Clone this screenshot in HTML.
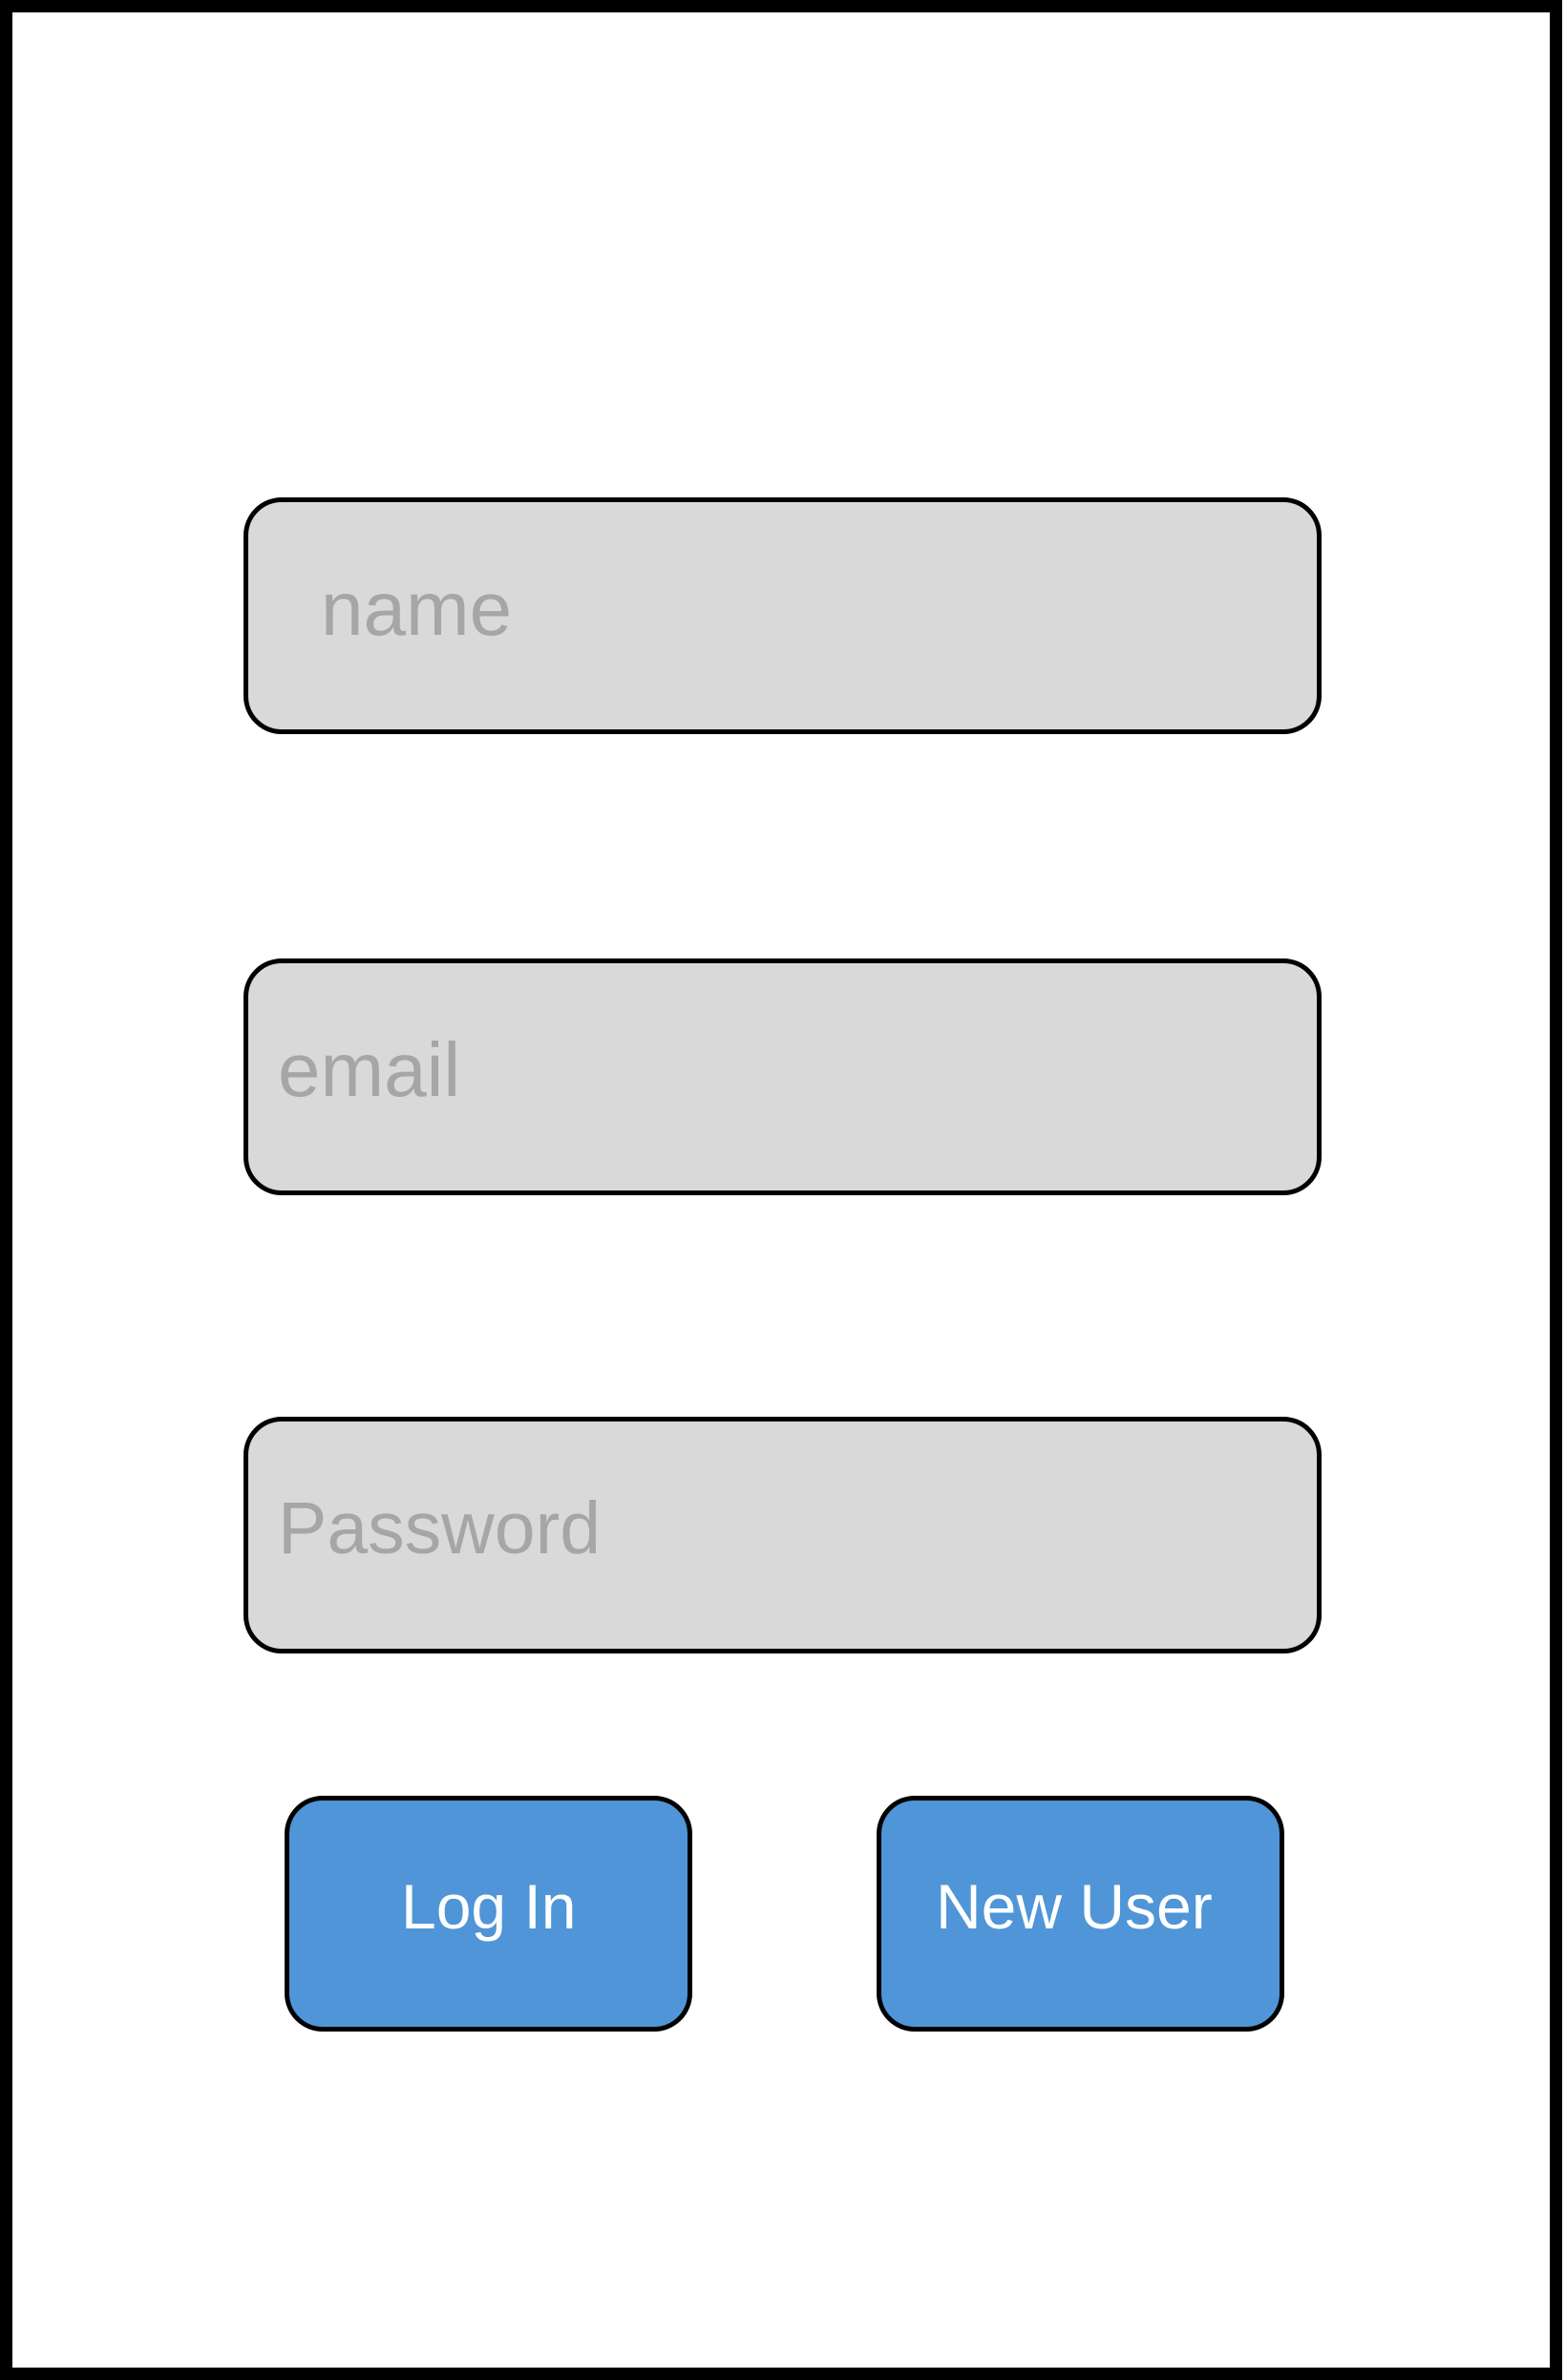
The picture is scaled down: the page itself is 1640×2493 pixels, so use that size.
<!DOCTYPE html>
<html><head><meta charset="utf-8"><style>
html,body{margin:0;padding:0;background:#fff}
body{width:1640px;height:2493px;position:relative;overflow:hidden;font-family:"Liberation Sans",sans-serif}
.frame{position:absolute;left:0;top:0;width:1636px;height:2493px;box-sizing:border-box;border:13px solid #000}
.f{position:absolute;box-sizing:border-box;border:5px solid #000;border-radius:40px;background:#d9d9d9}
.t{position:absolute;font-size:80px;color:#a6a6a6;line-height:1;white-space:nowrap}
.b{position:absolute;box-sizing:border-box;border:5px solid #000;border-radius:40px;background:#4f95d8}
.bt{position:absolute;font-size:66px;color:#fff;line-height:1;white-space:nowrap}
</style></head><body>
<div class="frame"></div>
<div class="f" style="left:255px;top:521px;width:1129px;height:248px"></div>
<div class="t" style="left:336px;top:598px">name</div>
<div class="f" style="left:255px;top:1004px;width:1129px;height:248px"></div>
<div class="t" style="left:291px;top:1081px">email</div>
<div class="f" style="left:255px;top:1484px;width:1129px;height:248px"></div>
<div class="t" style="left:291px;top:1563px;font-size:77px">Password</div>
<div class="b" style="left:298px;top:1881px;width:427px;height:247px"></div>
<div class="bt" style="left:420px;top:1964px">Log In</div>
<div class="b" style="left:918px;top:1881px;width:427px;height:247px"></div>
<div class="bt" style="left:980px;top:1964px">New User</div>
</body></html>
